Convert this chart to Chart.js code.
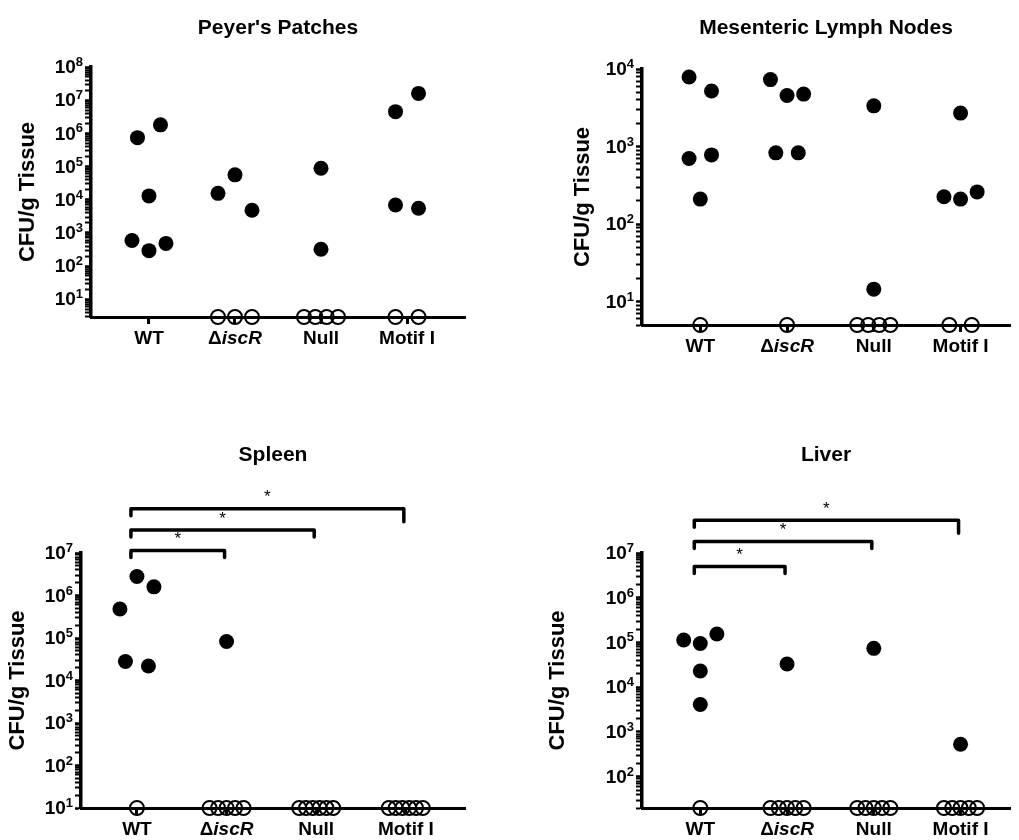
<!DOCTYPE html>
<html lang="en">
<head>
<meta charset="UTF-8">
<title>CFU/g Tissue</title>
<script src="https://cdn.jsdelivr.net/npm/chart.js@4.4.1/dist/chart.umd.min.js"></script>
<style>
  body { margin: 0; background: #fff; }
  #wrap { position: relative; width: 1019px; height: 840px; }
  .panel { position: absolute; }
</style>
</head>
<body>
<div id="wrap">
  <div class="panel" style="left:0;top:0"><canvas id="pp" width="510" height="420"></canvas></div>
  <div class="panel" style="left:510px;top:0"><canvas id="mln" width="509" height="420"></canvas></div>
  <div class="panel" style="left:0;top:420px"><canvas id="spleen" width="510" height="420"></canvas></div>
  <div class="panel" style="left:510px;top:420px"><canvas id="liver" width="509" height="420"></canvas></div>
</div>
<script>
const groups = ['WT', 'ΔiscR', 'Null', 'Motif I'];

// Peyer's Patches (CFU/g), detected values per strain
const ppWT = [7.4e5, 1.8e6, 1.3e4, 590, 290, 480];
const ppIscR = [1.55e4, 5.6e4, 4.8e3];
const ppNull = [8.9e4, 320];
const ppMotif = [4.5e6, 1.6e7, 6.9e3, 5.5e3];
const ppBelow = [0, 3, 4, 2];   // mice below detection limit

// Mesenteric lymph nodes
const mlnWT = [7.9e3, 5.2e3, 700, 780, 210];
const mlnIscR = [7.3e3, 4.55e3, 4.75e3, 830, 830];
const mlnNull = [3.35e3, 14.5];
const mlnMotif = [2.7e3, 225, 210, 260];
const mlnBelow = [1, 1, 4, 2];

// Spleen
const spWT = [4.8e5, 2.8e6, 1.6e6, 2.8e4, 2.2e4];
const spIscR = [8.3e4];
const spNull = [];
const spMotif = [];
const spBelow = [1, 5, 6, 6];

// Liver
const lvWT = [1.14e5, 9.5e4, 1.55e5, 2.3e4, 4.1e3];
const lvIscR = [3.3e4];
const lvNull = [7.4e4];
const lvMotif = [530];
const lvBelow = [1, 5, 5, 5];

// significance: WT vs each strain, bracket heights in CFU/g
const comparisons = [[1, 2], [1, 3], [1, 4]];
const spBracketLevels = [1.15e7, 3.5e7, 1.1e8];
const lvBracketLevels = [5e6, 1.8e7, 5.4e7];
const sigLabels = ['*', '*', '*'];

const FONT = '"Liberation Sans", Arial, Helvetica, sans-serif';

function logTicks(min, max) {
  const out = [];
  for (let e = Math.floor(Math.log10(min)); e <= Math.ceil(Math.log10(max)); e++) {
    for (let m = 1; m < 10; m++) {
      const v = m * Math.pow(10, e);
      if (v >= min * 0.999 && v <= max * 1.001) out.push({ value: v });
    }
  }
  return out;
}
function isDecade(v) {
  const l = Math.log10(v);
  return Math.abs(l - Math.round(l)) < 1e-9;
}

// horizontal spread of points that would overlap (in pixels), like a dot plot
function spread(values, yMin, yMax, area) {
  const decade = (area.bottom - area.top) / Math.log10(yMax / yMin);
  const py = v => area.bottom - Math.log10(v / yMin) * decade;
  const order = values.map((v, i) => i).sort((a, b) => py(values[a]) - py(values[b]));
  const offsets = new Array(values.length).fill(0);
  let cluster = [];
  const flush = () => {
    const members = cluster.slice().sort((a, b) => a - b);
    const n = members.length;
    const half = n < 2 ? 0 : (n === 2 ? 11.5 : 17);
    members.forEach((idx, k) => { offsets[idx] = n < 2 ? 0 : -half + k * 2 * half / (n - 1); });
    cluster = [];
  };
  order.forEach((idx, k) => {
    if (k > 0 && py(values[idx]) - py(values[order[k - 1]]) >= 23) flush();
    cluster.push(idx);
  });
  flush();
  return offsets;
}

// x labels, with the gene name in italics
const groupLabels = {
  id: 'groupLabels',
  afterDraw(chart) {
    const { ctx } = chart;
    const xs = chart.scales.x;
    ctx.save();
    ctx.fillStyle = '#000';
    ctx.textBaseline = 'middle';
    ctx.textAlign = 'left';
    groups.forEach((g, i) => {
      const x = xs.getPixelForValue(i + 1);
      const y = xs.top + 22;
      const parts = g.startsWith('Δ') ? [['Δ', ''], [g.slice(1), 'italic ']] : [[g, '']];
      let w = 0;
      parts.forEach(p => { ctx.font = p[1] + 'bold 19px ' + FONT; w += ctx.measureText(p[0]).width; });
      let cx = x - w / 2;
      parts.forEach(p => {
        ctx.font = p[1] + 'bold 19px ' + FONT;
        ctx.fillText(p[0], cx, y);
        cx += ctx.measureText(p[0]).width;
      });
    });
    ctx.restore();
  }
};

// 10^n labels with a real superscript
const powerLabels = {
  id: 'powerLabels',
  afterDraw(chart) {
    const { ctx } = chart;
    const ys = chart.scales.y;
    ctx.save();
    ctx.fillStyle = '#000';
    ys.ticks.forEach(t => {
      if (!isDecade(t.value)) return;
      const y = ys.getPixelForValue(t.value);
      const exp = String(Math.round(Math.log10(t.value)));
      ctx.font = 'bold 13px ' + FONT;
      const we = ctx.measureText(exp).width;
      ctx.font = 'bold 19px ' + FONT;
      const wb = ctx.measureText('10').width;
      const right = chart.chartArea.left - 8;
      ctx.textAlign = 'left';
      ctx.textBaseline = 'middle';
      ctx.fillText('10', right - we - wb, y + 1);
      ctx.font = 'bold 13px ' + FONT;
      ctx.textBaseline = 'alphabetic';
      ctx.fillText(exp, right - we, y - 1);
    });
    ctx.restore();
  }
};

const brackets = {
  id: 'brackets',
  afterDraw(chart, args, opts) {
    const levels = opts.levels;
    if (!levels) return;
    const { ctx } = chart;
    const xs = chart.scales.x, ys = chart.scales.y;
    comparisons.forEach((c, i) => {
      const x1 = xs.getPixelForValue(c[0]) - 6;
      const x2 = xs.getPixelForValue(c[1]) - 2;
      const y = ys.getPixelForValue(levels[i]);
      const dropR = i === comparisons.length - 1 ? 13 : 7;
      ctx.save();
      ctx.strokeStyle = '#000';
      ctx.lineWidth = 3.5;
      ctx.lineCap = 'round';
      ctx.lineJoin = 'round';
      ctx.beginPath();
      ctx.moveTo(x1, y + 7);
      ctx.lineTo(x1, y);
      ctx.lineTo(x2, y);
      ctx.lineTo(x2, y + dropR);
      ctx.stroke();
      ctx.fillStyle = '#000';
      ctx.font = '17px ' + FONT;
      ctx.textAlign = 'center';
      ctx.textBaseline = 'middle';
      ctx.fillText(sigLabels[i], (x1 + x2) / 2, y - 11);
      ctx.restore();
    });
  }
};

function makePanel(id, p) {
  const canvas = document.getElementById(id);
  const W = canvas.width, H = canvas.height;
  const a = p.area;
  const pxPerUnit = (a.right - a.left) / (p.xMax - p.xMin);
  const filled = [], open = [];
  p.values.forEach((vals, g) => {
    const off = spread(vals, p.yMin, p.yMax, a);
    vals.forEach((v, k) => filled.push({ x: g + 1 + off[k] / pxPerUnit, y: v }));
    const below = new Array(p.below[g]).fill(p.yMin);
    const offB = spread(below, p.yMin, p.yMax, a);
    below.forEach((v, k) => open.push({ x: g + 1 + offB[k] / pxPerUnit, y: v }));
  });

  new Chart(canvas.getContext('2d'), {
    type: 'scatter',
    data: {
      datasets: [
        { data: filled, pointRadius: 7.5, pointHoverRadius: 7.5, pointBackgroundColor: '#000',
          pointBorderColor: '#000', pointBorderWidth: 0, clip: false },
        { data: open, pointRadius: 7, pointHoverRadius: 7, pointBackgroundColor: 'rgba(0,0,0,0)',
          pointBorderColor: '#000', pointBorderWidth: 2, clip: false }
      ]
    },
    options: {
      responsive: false,
      animation: false,
      events: [],
      layout: { padding: { left: 0, top: 0, bottom: 0, right: W - a.right } },
      plugins: {
        legend: { display: false },
        tooltip: { enabled: false },
        title: {
          display: true, text: p.title, fullSize: false, color: '#000',
          font: { family: FONT, size: 21, weight: 'bold' },
          padding: { top: p.titleY - 12.6, bottom: a.top - p.titleY - 12.6 }
        },
        brackets: { levels: p.brackets }
      },
      scales: {
        x: {
          type: 'linear', min: p.xMin, max: p.xMax,
          afterBuildTicks: s => { s.ticks = [1, 2, 3, 4].map(v => ({ value: v })); },
          afterFit: s => { s.height = H - a.bottom; },
          ticks: { display: false },
          grid: { drawOnChartArea: false, tickLength: 7, tickWidth: 3, tickColor: '#000' },
          border: { display: true, width: 3, color: '#000' }
        },
        y: {
          type: 'logarithmic', min: p.yMin, max: p.yMax,
          afterBuildTicks: s => { s.ticks = logTicks(p.yMin, p.yMax); },
          afterFit: s => { s.width = a.left; },
          ticks: { display: false, autoSkip: false },
          grid: {
            drawOnChartArea: false, tickLength: 6, tickColor: '#000',
            tickWidth: c => (c.tick && isDecade(c.tick.value)) ? 2.5 : 2
          },
          border: { display: true, width: 3.5, color: '#000' },
          title: {
            display: true, text: 'CFU/g Tissue', color: '#000',
            font: { family: FONT, size: 22, weight: 'bold' },
            padding: { top: p.yTitleX - 13.2, bottom: 0 }
          }
        }
      }
    },
    plugins: [groupLabels, powerLabels, brackets]
  });
}

makePanel('pp', {
  title: "Peyer's Patches", titleY: 28, yTitleX: 27.5,
  area: { left: 91, top: 67, right: 465, bottom: 317 },
  xMin: 0.326, xMax: 4.674, yMin: 2.9, yMax: 1e8,
  values: [ppWT, ppIscR, ppNull, ppMotif], below: ppBelow
});
makePanel('mln', {
  title: 'Mesenteric Lymph Nodes', titleY: 28, yTitleX: 72.5,
  area: { left: 132, top: 69, right: 509, bottom: 325 },
  xMin: 0.328, xMax: 4.57, yMin: 5, yMax: 1e4,
  values: [mlnWT, mlnIscR, mlnNull, mlnMotif], below: mlnBelow
});
makePanel('spleen', {
  title: 'Spleen', titleY: 35, yTitleX: 17.5,
  area: { left: 81, top: 133, right: 465, bottom: 388 },
  xMin: 0.376, xMax: 4.66, yMin: 10, yMax: 1e7,
  values: [spWT, spIscR, spNull, spMotif], below: spBelow, brackets: spBracketLevels
});
makePanel('liver', {
  title: 'Liver', titleY: 35, yTitleX: 47.5,
  area: { left: 132, top: 133, right: 509, bottom: 388 },
  xMin: 0.328, xMax: 4.57, yMin: 20, yMax: 1e7,
  values: [lvWT, lvIscR, lvNull, lvMotif], below: lvBelow, brackets: lvBracketLevels
});
</script>
</body>
</html>
